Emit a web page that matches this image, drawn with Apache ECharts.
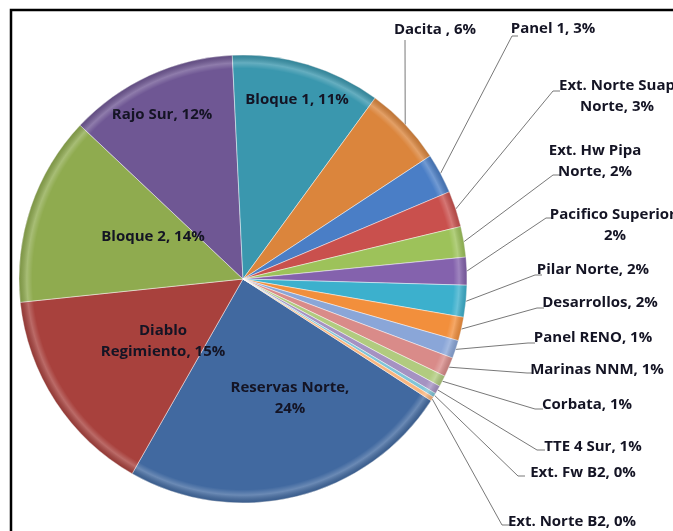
<!DOCTYPE html>
<html><head><meta charset="utf-8">
<script src="https://cdn.jsdelivr.net/npm/echarts@6/dist/echarts.min.js"></script>
<style>html,body{margin:0;padding:0;background:#fff}#c{width:673px;height:531px}</style>
</head><body><div id="c"></div>
<script>
// Data (clockwise order, starting with Reservas Norte)
const categories = ['Reservas Norte','Diablo Regimiento','Bloque 2','Rajo Sur','Bloque 1','Dacita',
  'Panel 1','Ext. Norte Suap Norte','Ext. Hw Pipa Norte','Pacifico Superior','Pilar Norte','Desarrollos',
  'Panel RENO','Marinas NNM','Corbata','TTE 4 Sur','Ext. Fw B2','Ext. Norte B2'];
const values = [24.1, 15.1, 13.7, 12.2, 10.8, 5.7, 2.9, 2.6, 2.2, 2.0, 2.3, 1.7, 1.3, 1.4, 0.8, 0.6, 0.3, 0.3];
const labelPrefixes = ['Reservas Norte,\n','Diablo\nRegimiento, ','Bloque 2, ','Rajo Sur, ','Bloque 1, ','Dacita , ',
  'Panel 1, ','Ext. Norte Suap\nNorte, ','Ext. Hw Pipa\nNorte, ','Pacifico Superior,\n','Pilar Norte, ','Desarrollos, ',
  'Panel RENO, ','Marinas NNM, ','Corbata, ','TTE 4 Sur, ','Ext. Fw B2, ','Ext. Norte B2, '];

// Styling / layout (kept apart from data)
const colors = ['#4169a0','#a8413d','#8fab4f','#6f5794','#3a97ae','#db853c',
  '#4a7ec6','#c9504d','#9dc25a','#8462ad','#3cb0cd','#f28f3c',
  '#8aa6d8','#d98b89','#b1cb7f','#a592c2','#7fc5d8','#f8b57f'];
// [textCenterX, textCenterY, leaderElbowX, leaderY, leaderEndX] ; inside labels only have 2
const labelPos = [
  [290, 398], [163, 341], [153, 237], [162, 115], [297, 100],
  [435, 30, 405, 40, 405],
  [553, 29, 512, 36, 518],
  [617, 96, 553, 91, 560],
  [595, 161, 553, 175, 560],
  [615, 225, 546, 218, 553],
  [593, 270, 535, 275, 542],
  [600, 303, 537, 308, 544],
  [593, 338, 528, 343, 535],
  [597, 370, 527, 373, 533],
  [587, 405, 535, 409, 543],
  [593, 447, 537, 450, 545],
  [583, 473, 518, 476, 525],
  [572, 522, 502, 525, 510]
];
const CX = 243, CY = 279, R = 224;
const total = values.reduce((a, b) => a + b, 0);

const data = categories.map((n, i) => {
  const inside = labelPos[i].length === 2;
  return {
    name: n, value: values[i],
    itemStyle: { color: colors[i] },
    label: { position: inside ? 'inside' : 'outside' },
    labelLine: { show: !inside }
  };
});

const chart = echarts.init(document.getElementById('c'), null, { renderer: 'canvas' });
chart.setOption({
  backgroundColor: '#fff',
  animation: false,
  graphic: [{
    type: 'rect', z: 100, silent: true,
    shape: { x: 11, y: 10, width: 720, height: 620 },
    style: { fill: 'none', stroke: '#000', lineWidth: 2.5 }
  }],
  series: [{
    type: 'pie',
    center: [CX, CY], radius: R,
    startAngle: 327.1, clockwise: true,
    avoidLabelOverlap: false,
    data: data,
    itemStyle: { borderColor: 'rgba(255,255,255,0.45)', borderWidth: 1 },
    label: {
      show: true,
      fontFamily: '"Liberation Sans Narrow", "Open Sans", Arial, sans-serif',
      fontWeight: 'bold', fontSize: 15, color: '#141424', lineHeight: 21,
      formatter: p => labelPrefixes[p.dataIndex] + Math.round(p.value / total * 100) + '%'
    },
    labelLine: { show: true, lineStyle: { color: '#555', width: 0.8 } },
    labelLayout: function (p) {
      const L = labelPos[p.dataIndex];
      const res = { x: L[0], y: L[1], align: 'center', verticalAlign: 'middle' };
      if (L.length > 2 && p.labelLinePoints) {
        const p0 = p.labelLinePoints[0];
        res.labelLinePoints = [p0, [L[2], L[3]], [L[4], L[3]]];
      }
      return res;
    }
  }, {
    type: 'pie', silent: true, z: 3,
    center: [CX, CY], radius: R,
    label: { show: false }, labelLine: { show: false },
    data: [{ value: 1, itemStyle: { color: {
      type: 'radial', x: CX, y: CY, r: R, global: true,
      colorStops: [
        { offset: 0, color: 'rgba(255,255,255,0)' },
        { offset: 0.94, color: 'rgba(255,255,255,0)' },
        { offset: 0.965, color: 'rgba(255,255,255,0.22)' },
        { offset: 1, color: 'rgba(0,0,0,0.12)' }
      ] } } }]
  }]
});
</script></body></html>
